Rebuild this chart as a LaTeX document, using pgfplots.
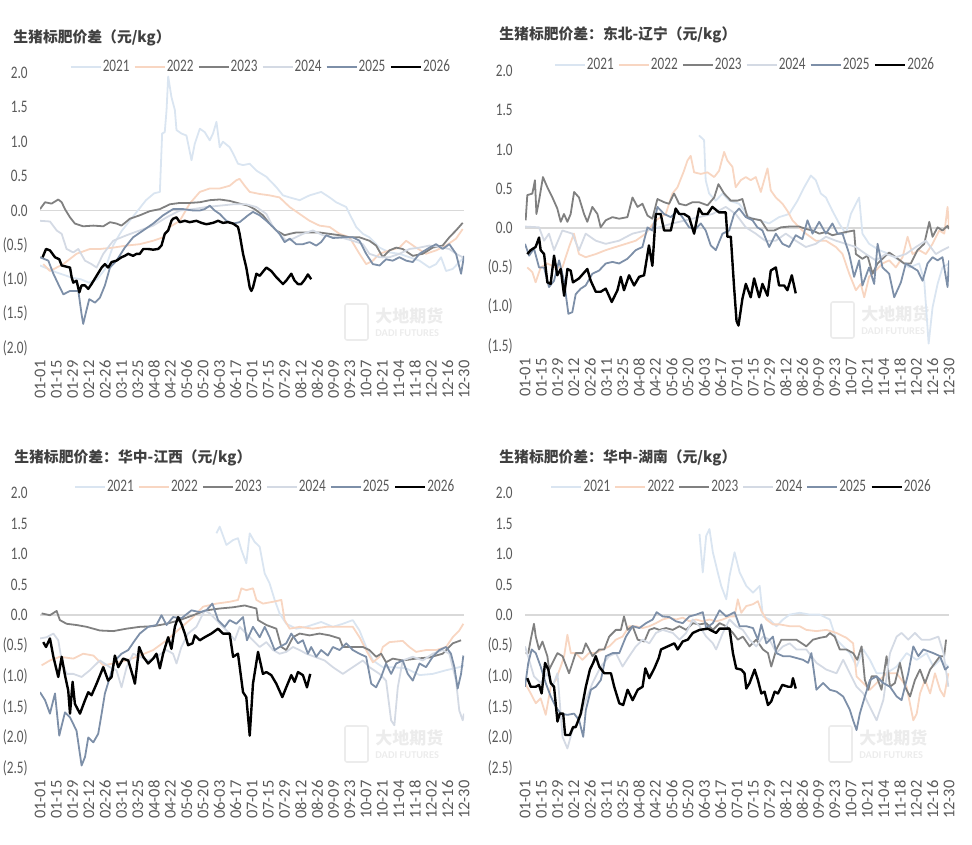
\documentclass[border=0pt]{standalone}
\usepackage{fontspec}
\setmainfont{Carlito}
\newfontfamily\cjk{Noto Sans CJK SC}
\usepackage{graphicx}
\usepackage{pgfplots}
\pgfplotsset{compat=1.18}
\definecolor{c21}{RGB}{218,229,241}
\definecolor{c22}{RGB}{248,214,194}
\definecolor{c23}{RGB}{128,128,128}
\definecolor{c24}{RGB}{212,218,228}
\definecolor{c25}{RGB}{125,143,168}
\definecolor{tk}{RGB}{89,89,89}
\definecolor{tt}{RGB}{64,64,64}
\definecolor{zl}{RGB}{217,217,217}
\definecolor{wm}{RGB}{236,236,236}
\newcommand\sx[1]{\scalebox{0.75}[1]{#1}}
\pgfplotsset{panel/.style={
  scale only axis, width=212pt, height=137.5pt, anchor=south west,
  xmin=0, xmax=26, xtick={0,...,26},
  xticklabels={01-01,01-15,01-29,02-12,02-26,03-11,03-25,04-08,04-22,05-06,05-20,06-03,06-17,07-01,07-15,07-29,08-12,08-26,09-09,09-23,10-07,10-21,11-04,11-18,12-02,12-16,12-30},
  xticklabel style={rotate=90, anchor=east, inner sep=0pt, font=\fontsize{8.2}{9}\selectfont, text=tk},
  xticklabel shift=6pt, yticklabel shift=6pt,
  yticklabel style={anchor=east, inner sep=0pt, font=\fontsize{8.8}{10}\selectfont, text=tk},
  axis line style={draw=none}, major tick length=0pt, tick style={draw=none},
  legend columns=6,
  legend style={draw=none, fill=none, font=\fontsize{8.8}{10}\selectfont, text=tk, inner sep=0pt, anchor=center, yshift=3pt,
    nodes={inner sep=0.6pt},
    /tikz/every even column/.append style={column sep=1.5pt}},
  legend image code/.code={\draw[##1] (0pt,0pt) -- (15pt,0pt);},
  every axis plot/.append style={line join=round},
}}
\pgfplotsset{
  s21/.style={c21, line width=0.9pt},
  s22/.style={c22, line width=0.9pt},
  s23/.style={c23, line width=0.9pt},
  s24/.style={c24, line width=0.9pt},
  s25/.style={c25, line width=0.9pt},
  s26/.style={black, line width=1.2pt},
}
\newcommand\wmark[2]{%
  \node[anchor=west, font=\fontsize{8.5}{9}\cjk\bfseries, text=wm, inner sep=0pt] at (#1,#2) {大地期货};
  \node[anchor=west, font=\fontsize{5.2}{6}\selectfont\bfseries, text=wm, inner sep=0pt] at ([yshift=-8.5pt]#1,#2) {DADI FUTURES};
  \draw[wm, line width=0.8pt, rounded corners=1pt] ([xshift=-15pt,yshift=-12pt]#1,#2) rectangle ([xshift=-3.5pt,yshift=6pt]#1,#2);
}
\begin{document}
\begin{tikzpicture}
\path[use as bounding box] (0,0) rectangle (486pt,422pt);
\wmark{187.5pt}{264pt}
\wmark{430.5pt}{265pt}
\wmark{187.5pt}{53pt}
\wmark{429.5pt}{53pt}
\node[anchor=west, font=\fontsize{7.4}{9}\cjk\bfseries, text=tt, inner sep=0pt] at (6.5pt,403pt) {生猪标肥价差（元/kg）};
\node[anchor=west, font=\fontsize{7.4}{9}\cjk\bfseries, text=tt, inner sep=0pt] at (249.5pt,404.5pt) {生猪标肥价差：东北-辽宁（元/kg）};
\node[anchor=west, font=\fontsize{7.4}{9}\cjk\bfseries, text=tt, inner sep=0pt] at (7pt,193pt) {生猪标肥价差：华中-江西（元/kg）};
\node[anchor=west, font=\fontsize{7.4}{9}\cjk\bfseries, text=tt, inner sep=0pt] at (249.5pt,193pt) {生猪标肥价差：华中-湖南（元/kg）};

% ---------------- Panel 1 ----------------
\begin{axis}[panel, at={(20pt,248pt)}, ymin=-2, ymax=2,
  ytick={-2,-1.5,-1,-0.5,0,0.5,1,1.5,2},
  yticklabels={\sx{(2.0)},\sx{(1.5)},\sx{(1.0)},\sx{(0.5)},\sx{0.0},\sx{0.5},\sx{1.0},\sx{1.5},\sx{2.0}},
  legend style={at={(0.52,1)}}]
\addplot[zl, line width=0.8pt, forget plot] coordinates {(0,0)(26,0)};
\addplot[s21] coordinates {(0,-0.80)(1,-0.90)(2,-0.98)(2.5,-1.00)(3,-1.05)(3.5,-1.00)(4,-0.85)(4.5,-0.50)(5,-0.30)(5.5,-0.15)(6,0.00)(6.5,0.15)(7,0.25)(7.35,0.27)(7.49,1.12)(7.65,1.14)(7.76,1.46)(7.86,1.95)(8.06,1.65)(8.27,1.46)(8.37,1.17)(8.67,1.12)(8.98,1.09)(9.29,0.73)(9.49,0.97)(9.8,1.19)(10.1,1.14)(10.41,1.02)(10.61,1.12)(10.82,1.29)(11.02,0.92)(11.22,1.00)(11.63,0.92)(11.84,0.83)(12.14,0.68)(12.45,0.66)(12.86,0.68)(13.27,0.58)(13.88,0.49)(14.49,0.34)(14.9,0.22)(15.31,0.19)(15.92,0.15)(16.53,0.22)(17.24,0.27)(17.76,0.19)(18.16,0.12)(18.78,0.05)(18.98,-0.05)(19.39,-0.24)(19.8,-0.34)(20.2,-0.39)(20.82,-0.54)(21.43,-0.61)(22.04,-0.63)(22.65,-0.68)(23.27,-0.73)(23.88,-0.83)(24.29,-0.78)(24.59,-0.68)(24.9,-0.88)(25.31,-0.85)(25.71,-0.75)(26,-0.68)};
\addlegendentry{\sx{2021}}
\addplot[s22] coordinates {(0.2,-0.78)(0.61,-0.88)(1.43,-0.78)(2.24,-0.63)(3.06,-0.56)(3.67,-0.56)(4.49,-0.54)(5.31,-0.51)(6.12,-0.49)(6.94,-0.44)(7.55,-0.39)(7.96,-0.24)(8.57,-0.15)(9.18,0.10)(9.8,0.27)(10.41,0.32)(11.02,0.32)(11.63,0.36)(12.04,0.44)(12.24,0.46)(12.55,0.36)(12.86,0.27)(13.47,0.24)(14.08,0.22)(14.69,0.19)(15.31,0.05)(15.92,-0.05)(16.53,-0.15)(17.14,-0.22)(17.76,-0.24)(18.37,-0.34)(18.98,-0.39)(19.59,-0.63)(20.0,-0.78)(20.41,-0.73)(20.82,-0.63)(21.43,-0.58)(22.04,-0.54)(22.45,-0.44)(23.06,-0.54)(23.67,-0.63)(24.29,-0.58)(24.9,-0.51)(25.51,-0.41)(25.92,-0.27)};
\addlegendentry{\sx{2022}}
\addplot[s23] coordinates {(0,0.02)(0.31,0.12)(0.71,0.10)(1.12,0.16)(1.33,0.12)(1.53,0.02)(1.84,-0.10)(2.14,-0.19)(2.65,-0.23)(3.27,-0.22)(3.88,-0.23)(4.29,-0.17)(4.69,-0.19)(5.0,-0.22)(5.51,-0.12)(6.12,-0.07)(6.73,-0.01)(7.35,0.02)(7.96,0.09)(8.57,0.11)(9.18,0.11)(9.8,0.12)(10.41,0.15)(11.02,0.16)(11.63,0.14)(12.24,0.10)(12.76,0.07)(13.16,0.02)(13.67,-0.07)(14.08,-0.19)(14.49,-0.29)(15.0,-0.36)(15.31,-0.34)(15.71,-0.32)(16.53,-0.32)(17.14,-0.32)(17.76,-0.34)(18.37,-0.36)(18.98,-0.39)(19.59,-0.39)(20.2,-0.44)(20.61,-0.51)(21.02,-0.68)(21.43,-0.58)(21.84,-0.54)(22.24,-0.56)(22.86,-0.66)(23.47,-0.63)(24.08,-0.54)(24.69,-0.51)(25.1,-0.39)(25.51,-0.29)(25.92,-0.18)};
\addlegendentry{\sx{2023}}
\addplot[s24] coordinates {(0,-0.15)(0.61,-0.16)(1.02,-0.29)(1.33,-0.34)(1.63,-0.56)(2.04,-0.61)(2.35,-0.56)(2.76,-0.73)(3.16,-0.78)(3.47,-0.83)(3.88,-0.63)(4.49,-0.44)(5.31,-0.36)(6.12,-0.29)(6.94,-0.22)(7.76,-0.10)(8.57,0.00)(9.39,0.02)(10.2,0.05)(11.02,0.07)(11.84,0.09)(12.65,0.09)(13.27,0.05)(13.88,-0.05)(14.29,-0.24)(14.69,-0.34)(15.1,-0.44)(15.51,-0.41)(16.12,-0.34)(16.73,-0.29)(17.35,-0.36)(17.96,-0.39)(18.57,-0.40)(19.18,-0.44)(19.8,-0.49)(20.2,-0.63)(20.82,-0.68)(21.43,-0.68)(22.04,-0.63)(22.65,-0.56)(23.27,-0.54)(23.88,-0.51)(24.49,-0.53)(25.1,-0.56)(25.51,-0.63)(25.92,-0.68)};
\addlegendentry{\sx{2024}}
\addplot[s25] coordinates {(0,-0.68)(0.31,-0.71)(0.51,-0.73)(0.82,-0.92)(1.12,-1.07)(1.43,-1.22)(1.84,-1.17)(2.35,-1.17)(2.55,-1.51)(2.65,-1.65)(2.82,-1.48)(3.02,-1.29)(3.37,-1.34)(3.67,-1.27)(3.98,-1.09)(4.29,-0.83)(4.69,-0.73)(5.2,-0.54)(5.71,-0.39)(6.33,-0.29)(6.94,-0.19)(7.55,-0.07)(8.16,0.02)(8.78,0.02)(9.39,0.00)(9.8,0.00)(10.1,0.02)(10.41,0.07)(10.71,0.00)(11.02,-0.05)(11.43,-0.15)(11.84,-0.19)(12.24,-0.17)(12.76,-0.07)(13.06,-0.02)(13.47,-0.07)(13.88,-0.15)(14.29,-0.24)(14.69,-0.34)(15.0,-0.46)(15.31,-0.41)(15.71,-0.49)(16.12,-0.49)(16.53,-0.46)(16.94,-0.51)(17.24,-0.46)(17.55,-0.36)(17.96,-0.40)(18.57,-0.39)(19.18,-0.39)(19.59,-0.44)(20.0,-0.63)(20.41,-0.78)(20.82,-0.80)(21.22,-0.71)(21.63,-0.73)(22.04,-0.68)(22.45,-0.73)(22.86,-0.75)(23.27,-0.63)(23.88,-0.54)(24.29,-0.49)(24.69,-0.56)(25.1,-0.49)(25.51,-0.63)(25.82,-0.92)(26,-0.66)};
\addlegendentry{\sx{2025}}
\addplot[s26] coordinates {(0.16,-0.68)(0.37,-0.56)(0.61,-0.58)(0.92,-0.68)(1.18,-0.71)(1.33,-0.80)(1.84,-0.83)(1.94,-0.97)(2.04,-1.05)(2.24,-1.02)(2.41,-1.19)(2.55,-1.09)(2.76,-1.09)(2.96,-1.14)(3.16,-1.07)(3.47,-0.95)(3.78,-0.83)(3.98,-0.78)(4.18,-0.83)(4.39,-0.75)(4.69,-0.73)(5.0,-0.68)(5.2,-0.66)(5.41,-0.63)(5.71,-0.66)(5.92,-0.63)(6.12,-0.63)(6.33,-0.56)(6.63,-0.56)(6.94,-0.57)(7.24,-0.56)(7.45,-0.51)(7.65,-0.34)(7.86,-0.29)(8.06,-0.15)(8.16,-0.12)(8.37,-0.10)(8.57,-0.17)(8.88,-0.15)(9.18,-0.17)(9.59,-0.15)(9.9,-0.18)(10.2,-0.20)(10.61,-0.18)(10.92,-0.15)(11.22,-0.18)(11.53,-0.17)(11.84,-0.19)(12.14,-0.24)(12.24,-0.34)(12.45,-0.63)(12.65,-0.83)(12.86,-1.12)(12.96,-1.17)(13.06,-1.12)(13.27,-0.92)(13.47,-0.95)(13.88,-0.83)(14.18,-0.88)(14.49,-0.97)(14.9,-1.07)(15.1,-1.02)(15.41,-0.92)(15.61,-1.02)(15.82,-1.07)(16.02,-1.07)(16.22,-1.01)(16.43,-0.93)(16.63,-1.00)};
\addlegendentry{\sx{2026}}
\end{axis}

% ---------------- Panel 2 ----------------
\begin{axis}[panel, at={(262.5pt,249pt)}, ymin=-1.5, ymax=2,
  ytick={-1.5,-1,-0.5,0,0.5,1,1.5,2},
  yticklabels={\sx{(1.5)},\sx{(1.0)},\sx{(0.5)},\sx{0.0},\sx{0.5},\sx{1.0},\sx{1.5},\sx{2.0}},
  legend style={at={(0.518,1)}}]
\addplot[zl, line width=0.8pt, forget plot] coordinates {(0,0)(26,0)};
\addplot[s21] coordinates {(10.67,1.18)(10.98,1.12)(11.08,0.61)(11.29,0.44)(11.7,0.35)(12.11,0.44)(12.52,0.35)(13.13,0.31)(13.74,0.14)(14.36,0.10)(14.97,0.06)(15.58,0.14)(16.2,0.18)(16.71,0.35)(17.12,0.52)(17.53,0.67)(17.83,0.61)(18.14,0.44)(18.45,0.39)(18.85,0.22)(19.26,0.06)(19.67,-0.07)(19.98,0.18)(20.29,0.31)(20.49,0.39)(20.69,-0.07)(21.1,-0.20)(21.72,-0.28)(22.33,-0.33)(22.94,-0.41)(23.56,-0.50)(24.17,-0.45)(24.48,-0.67)(24.75,-1.47)(24.99,-1.01)(25.3,-0.71)(25.6,-0.50)(26,-0.45)};
\addlegendentry{\sx{2021}}
\addplot[s22] coordinates {(0.14,-0.50)(0.45,-0.56)(0.65,-0.69)(0.96,-0.50)(1.37,-0.45)(1.88,-0.50)(2.29,-0.50)(2.7,-0.24)(3.0,-0.07)(3.31,-0.33)(3.72,-0.37)(4.34,-0.33)(4.95,-0.28)(5.56,-0.24)(6.18,-0.20)(6.79,-0.16)(7.4,-0.07)(8.02,0.10)(8.63,0.18)(9.04,0.44)(9.35,0.52)(9.75,0.73)(9.96,0.86)(10.16,0.92)(10.37,0.71)(10.78,0.69)(11.19,0.71)(11.6,0.65)(11.9,0.73)(12.21,0.97)(12.41,0.86)(12.72,0.78)(12.92,0.52)(13.23,0.61)(13.54,0.65)(13.84,0.61)(14.15,0.65)(14.46,0.46)(14.87,0.76)(15.07,0.48)(15.38,0.39)(15.79,0.31)(16.09,0.22)(16.4,0.10)(16.81,0.01)(17.22,-0.07)(17.83,-0.16)(18.45,-0.16)(19.06,-0.24)(19.47,-0.33)(19.88,-0.58)(20.29,-0.79)(20.59,-0.71)(20.8,-0.88)(21.1,-0.62)(21.51,-0.54)(21.92,-0.45)(22.33,-0.41)(22.74,-0.50)(23.15,-0.37)(23.46,-0.11)(23.76,-0.33)(24.17,-0.28)(24.58,-0.33)(24.99,-0.20)(25.4,-0.03)(25.71,-0.07)(25.91,0.27)(26,0.01)};
\addlegendentry{\sx{2022}}
\addplot[s23] coordinates {(0.04,0.10)(0.14,0.42)(0.45,0.44)(0.61,0.61)(0.7,0.18)(0.86,0.35)(1.1,0.65)(1.37,0.52)(1.68,0.39)(1.98,0.25)(2.19,0.08)(2.39,0.18)(2.6,0.08)(2.8,0.18)(3.01,0.46)(3.31,0.39)(3.62,0.18)(3.82,0.08)(4.13,0.27)(4.44,0.18)(4.64,0.01)(4.95,0.10)(5.36,0.14)(5.77,0.12)(6.28,0.14)(6.59,0.39)(6.9,0.27)(7.2,0.31)(7.51,0.16)(7.81,0.12)(8.12,0.37)(8.53,0.33)(8.83,0.31)(9.14,0.44)(9.45,0.31)(9.86,0.29)(10.27,0.33)(10.67,0.33)(11.19,0.29)(11.6,0.39)(11.86,0.56)(12.21,0.44)(12.62,0.35)(13.03,0.35)(13.33,0.37)(13.64,0.14)(13.95,0.12)(14.46,0.10)(14.87,-0.03)(15.28,-0.03)(15.69,0.01)(16.2,0.02)(16.81,0.02)(17.22,-0.01)(17.63,-0.03)(18.04,-0.07)(18.45,-0.05)(18.85,-0.09)(19.26,-0.07)(19.67,-0.05)(20.18,-0.03)(20.29,-0.33)(20.69,-0.39)(21.0,-0.35)(21.31,-0.58)(21.62,-0.45)(21.92,-0.39)(22.33,-0.31)(22.74,-0.37)(23.25,-0.45)(23.66,-0.45)(24.07,-0.28)(24.48,-0.20)(24.79,0.08)(24.99,-0.11)(25.3,0.01)(25.6,-0.03)(25.91,0.03)(26,-0.01)};
\addlegendentry{\sx{2023}}
\addplot[s24] coordinates {(0,0.02)(0.86,0.01)(1.17,-0.16)(1.47,-0.07)(1.78,-0.28)(2.29,-0.03)(2.9,-0.07)(3.31,-0.28)(3.72,-0.07)(4.34,-0.16)(4.95,-0.20)(5.77,-0.16)(6.59,-0.07)(7.4,-0.03)(8.22,0.01)(9.04,0.06)(9.86,0.10)(10.67,0.14)(11.49,0.18)(12.31,0.27)(12.92,0.18)(13.54,0.01)(14.15,-0.07)(14.72,-0.16)(15.38,-0.16)(15.99,-0.07)(16.6,-0.16)(17.22,-0.24)(17.83,-0.20)(18.45,-0.11)(19.06,-0.16)(19.67,-0.20)(20.29,-0.24)(20.9,-0.33)(21.51,-0.41)(22.13,-0.33)(22.74,-0.37)(23.35,-0.33)(23.97,-0.24)(24.58,-0.16)(25.19,-0.33)(25.6,-0.28)(26,-0.24)};
\addlegendentry{\sx{2024}}
\addplot[s25] coordinates {(0,-0.20)(0.25,-0.35)(0.55,-0.26)(0.86,-0.50)(1.17,-0.50)(1.47,-0.75)(1.78,-0.67)(2.09,-0.41)(2.39,-0.67)(2.66,-1.09)(2.9,-1.07)(3.11,-0.84)(3.42,-0.77)(3.72,-0.73)(4.13,-0.58)(4.54,-0.54)(4.95,-0.45)(5.36,-0.43)(5.77,-0.45)(6.28,-0.39)(6.79,-0.28)(7.2,-0.24)(7.51,0.01)(7.81,-0.03)(8.12,0.27)(8.53,0.18)(8.94,0.14)(9.35,0.22)(9.65,0.14)(10.06,0.01)(10.47,-0.01)(10.78,0.06)(11.08,-0.03)(11.39,-0.22)(11.7,-0.28)(12.11,-0.07)(12.52,-0.03)(12.82,0.18)(13.13,0.25)(13.54,0.14)(13.95,0.10)(14.25,0.01)(14.56,-0.03)(14.97,-0.24)(15.38,-0.07)(15.79,-0.20)(16.2,-0.24)(16.6,-0.09)(17.01,-0.14)(17.32,0.10)(17.63,-0.07)(18.04,0.08)(18.45,-0.07)(18.85,0.06)(19.16,-0.07)(19.47,-0.07)(19.88,-0.33)(20.18,-0.62)(20.49,-0.41)(20.69,-0.73)(21.1,-0.50)(21.41,-0.71)(21.62,-0.20)(21.92,-0.50)(22.33,-0.58)(22.64,-0.88)(23.05,-0.69)(23.35,-0.45)(23.76,-0.50)(24.07,-0.54)(24.38,-0.67)(24.68,-0.45)(24.99,-0.37)(25.3,-0.41)(25.6,-0.37)(25.91,-0.75)(26,-0.41)};
\addlegendentry{\sx{2025}}
\addplot[s26] coordinates {(0.14,-0.33)(0.35,-0.28)(0.65,-0.24)(0.86,-0.12)(0.96,-0.28)(1.17,-0.33)(1.37,-0.69)(1.57,-0.71)(1.78,-0.35)(1.98,-0.60)(2.19,-0.52)(2.4,-0.86)(2.6,-0.52)(2.8,-0.54)(2.94,-0.69)(3.31,-0.64)(3.82,-0.52)(4.03,-0.67)(4.34,-0.81)(4.64,-0.81)(4.95,-0.77)(5.32,-0.94)(5.67,-0.79)(5.87,-0.62)(6.07,-0.79)(6.38,-0.60)(6.69,-0.73)(7.0,-0.62)(7.3,-0.60)(7.6,-0.22)(7.81,-0.48)(8.02,0.18)(8.32,0.18)(8.53,-0.03)(8.94,-0.03)(9.24,0.25)(9.45,0.18)(9.75,0.18)(10.06,0.14)(10.37,-0.07)(10.67,0.25)(10.88,0.18)(11.19,0.18)(11.49,0.27)(11.9,0.20)(12.31,0.20)(12.41,-0.11)(12.62,-0.11)(12.82,-0.75)(12.97,-1.18)(13.09,-1.24)(13.33,-0.90)(13.54,-0.71)(13.84,-0.88)(14.05,-0.64)(14.36,-0.88)(14.56,-0.71)(14.87,-0.86)(15.07,-0.54)(15.38,-0.50)(15.58,-0.73)(15.89,-0.73)(16.09,-0.79)(16.36,-0.60)(16.6,-0.83)};
\addlegendentry{\sx{2026}}
\end{axis}

% ---------------- Panel 3 ----------------
\begin{axis}[panel, at={(20pt,38pt)}, ymin=-2.5, ymax=2,
  ytick={-2.5,-2,-1.5,-1,-0.5,0,0.5,1,1.5,2},
  yticklabels={\sx{(2.5)},\sx{(2.0)},\sx{(1.5)},\sx{(1.0)},\sx{(0.5)},\sx{0.0},\sx{0.5},\sx{1.0},\sx{1.5},\sx{2.0}},
  legend style={at={(0.53,1)}}]
\addplot[zl, line width=0.8pt, forget plot] coordinates {(0,0)(26,0)};
\addplot[s21] coordinates {(10.82,1.34)(11.02,1.45)(11.43,1.15)(11.84,1.23)(12.14,1.26)(12.35,1.07)(12.65,0.85)(12.86,1.34)(13.16,1.20)(13.47,1.12)(13.78,0.68)(14.08,0.52)(14.39,0.25)(14.69,0.03)(15.1,-0.14)(15.71,-0.22)(16.33,-0.19)(17.24,-0.11)(17.96,-0.19)(18.57,-0.14)(19.18,-0.08)(19.59,-0.25)(20.0,-0.52)(20.41,-0.74)(21.02,-0.85)(21.63,-0.85)(22.45,-0.87)(23.27,-0.98)(24.08,-0.96)(24.9,-0.90)(25.71,-0.85)(26,-0.82)};
\addlegendentry{\sx{2021}}
\addplot[s22] coordinates {(0.1,-0.82)(0.61,-0.74)(1.22,-0.68)(2.04,-0.71)(2.65,-0.63)(3.27,-0.66)(3.88,-0.82)(4.49,-0.79)(5.31,-0.74)(6.12,-0.66)(6.94,-0.57)(7.76,-0.41)(8.57,-0.22)(9.39,-0.03)(10.0,0.14)(10.82,0.19)(11.63,0.22)(12.14,0.25)(12.35,0.44)(12.65,0.41)(13.06,0.44)(13.27,0.25)(13.67,0.19)(14.29,0.22)(14.8,0.25)(15.0,-0.08)(15.31,-0.22)(15.92,-0.19)(16.73,-0.22)(17.55,-0.19)(18.37,-0.19)(19.18,-0.19)(19.59,-0.36)(20.0,-0.57)(20.41,-0.77)(20.82,-0.68)(21.02,-0.52)(21.43,-0.44)(22.24,-0.42)(22.65,-0.52)(23.06,-0.60)(23.67,-0.57)(24.29,-0.57)(24.9,-0.52)(25.31,-0.36)(25.71,-0.25)(25.96,-0.14)};
\addlegendentry{\sx{2022}}
\addplot[s23] coordinates {(0.1,0.03)(0.61,0.00)(1.02,0.07)(1.22,-0.08)(1.63,-0.14)(2.24,-0.16)(2.86,-0.19)(3.67,-0.25)(4.49,-0.26)(5.31,-0.22)(6.12,-0.19)(6.94,-0.18)(7.76,-0.14)(8.57,-0.08)(9.39,0.00)(10.2,0.08)(11.02,0.11)(11.84,0.13)(12.55,0.16)(13.27,0.11)(13.37,-0.08)(13.88,-0.16)(14.49,-0.22)(14.8,-0.52)(15.1,-0.57)(15.51,-0.36)(15.92,-0.30)(16.53,-0.33)(17.14,-0.30)(17.76,-0.33)(18.37,-0.38)(18.57,-0.52)(19.18,-0.52)(19.8,-0.52)(20.2,-0.57)(20.61,-0.68)(20.92,-0.63)(21.22,-0.77)(21.63,-0.71)(22.24,-0.74)(23.06,-0.71)(23.88,-0.69)(24.69,-0.63)(25.31,-0.46)(25.82,-0.41)};
\addlegendentry{\sx{2023}}
\addplot[s24] coordinates {(0,-0.38)(0.41,-0.36)(0.82,-0.30)(1.12,-0.41)(1.33,-0.74)(1.63,-0.96)(2.04,-0.96)(2.55,-1.01)(3.06,-0.90)(3.67,-0.74)(4.29,-0.85)(4.69,-0.90)(5.0,-1.18)(5.31,-0.85)(5.71,-0.63)(6.12,-0.68)(6.63,-0.74)(7.14,-0.68)(7.76,-0.57)(8.16,-0.63)(8.37,-0.79)(8.67,-0.52)(9.08,-0.30)(9.59,-0.19)(10.1,0.08)(10.41,0.03)(10.82,-0.08)(11.22,-0.19)(11.63,-0.30)(11.94,-0.41)(12.24,-0.19)(12.65,-0.30)(13.06,-0.41)(13.47,-0.52)(13.88,-0.44)(14.29,-0.57)(14.69,-0.63)(15.1,-0.60)(15.51,-0.52)(15.92,-0.57)(16.33,-0.63)(16.84,-0.68)(17.45,-0.74)(17.96,-0.85)(18.57,-0.96)(19.18,-0.85)(19.8,-0.74)(20.2,-0.85)(20.82,-0.96)(21.22,-1.07)(21.53,-1.72)(21.73,-1.80)(21.94,-1.18)(22.24,-0.74)(22.86,-0.68)(23.47,-0.74)(24.08,-0.63)(24.69,-0.57)(25.1,-0.63)(25.51,-1.07)(25.71,-1.56)(25.92,-1.72)(26,-1.61)};
\addlegendentry{\sx{2024}}
\addplot[s25] coordinates {(0,-1.26)(0.31,-1.39)(0.61,-1.61)(0.92,-1.28)(1.18,-1.97)(1.53,-1.59)(1.84,-1.67)(2.24,-1.89)(2.55,-2.46)(2.76,-2.32)(2.96,-2.00)(3.27,-2.08)(3.57,-1.94)(3.78,-1.61)(3.98,-1.28)(4.29,-1.01)(4.59,-0.74)(5.0,-0.63)(5.41,-0.57)(5.82,-0.41)(6.12,-0.30)(6.63,-0.19)(7.14,-0.16)(7.45,0.00)(7.76,-0.16)(8.16,-0.03)(8.67,-0.05)(9.29,0.08)(9.8,0.05)(10.2,0.08)(10.57,0.19)(10.92,-0.08)(11.33,-0.19)(11.63,-0.08)(12.04,-0.14)(12.45,-0.03)(12.69,-0.41)(13.06,-0.19)(13.47,-0.36)(13.78,-0.19)(14.08,-0.36)(14.39,-0.57)(14.69,-0.52)(15.1,-0.46)(15.41,-0.30)(15.82,-0.46)(16.12,-0.41)(16.43,-0.63)(16.63,-0.52)(16.94,-0.68)(17.24,-0.57)(17.65,-0.66)(17.96,-0.52)(18.37,-0.57)(18.78,-0.46)(19.18,-0.57)(19.59,-0.63)(20.0,-0.68)(20.31,-1.12)(20.61,-1.18)(20.92,-1.01)(21.22,-0.79)(21.53,-0.96)(21.84,-0.79)(22.24,-0.74)(22.55,-0.96)(22.86,-1.07)(23.27,-0.79)(23.67,-0.85)(24.08,-0.68)(24.49,-0.57)(24.9,-0.52)(25.2,-0.63)(25.41,-0.85)(25.61,-1.20)(25.82,-0.96)(25.96,-0.66)};
\addlegendentry{\sx{2025}}
\addplot[s26] coordinates {(0.2,-0.44)(0.37,-0.52)(0.61,-0.38)(0.82,-0.68)(1.12,-1.01)(1.33,-0.68)(1.53,-0.98)(1.73,-1.23)(1.84,-1.61)(2.0,-1.09)(2.14,-1.45)(2.45,-1.61)(2.76,-1.39)(2.96,-1.26)(3.16,-1.31)(3.47,-1.12)(3.88,-0.85)(4.18,-1.07)(4.39,-1.01)(4.59,-0.66)(4.8,-0.85)(5.1,-0.71)(5.41,-0.74)(5.71,-1.01)(5.82,-1.12)(6.08,-0.52)(6.33,-0.68)(6.63,-0.79)(6.94,-0.71)(7.14,-0.63)(7.35,-0.87)(7.55,-0.63)(7.86,-0.36)(8.06,-0.55)(8.27,-0.19)(8.47,-0.03)(8.67,-0.14)(8.88,-0.30)(9.08,-0.49)(9.35,-0.46)(9.49,-0.33)(9.8,-0.41)(10.1,-0.36)(10.51,-0.30)(10.92,-0.22)(11.22,-0.30)(11.63,-0.30)(11.84,-0.68)(12.14,-0.63)(12.45,-1.26)(12.65,-1.34)(12.86,-1.97)(13.06,-1.12)(13.37,-0.60)(13.67,-0.96)(13.88,-0.93)(14.18,-0.98)(14.49,-1.12)(14.86,-1.34)(15.1,-1.18)(15.41,-0.98)(15.61,-1.09)(15.82,-0.93)(16.12,-0.98)(16.37,-1.18)(16.57,-0.96)};
\addlegendentry{\sx{2026}}
\end{axis}

% ---------------- Panel 4 ----------------
\begin{axis}[panel, at={(262.5pt,38pt)}, ymin=-2.5, ymax=2,
  ytick={-2.5,-2,-1.5,-1,-0.5,0,0.5,1,1.5,2},
  yticklabels={\sx{(2.5)},\sx{(2.0)},\sx{(1.5)},\sx{(1.0)},\sx{(0.5)},\sx{0.0},\sx{0.5},\sx{1.0},\sx{1.5},\sx{2.0}},
  legend style={at={(0.51,1)}}]
\addplot[zl, line width=0.8pt, forget plot] coordinates {(0,0)(26,0)};
\addplot[s21] coordinates {(10.7,1.33)(10.9,0.70)(11.11,1.30)(11.31,1.41)(11.52,1.03)(11.82,0.70)(12.03,0.48)(12.34,0.26)(12.54,0.64)(12.85,1.03)(13.16,0.70)(13.57,0.48)(13.98,0.37)(14.39,0.48)(14.59,-0.02)(15.0,-0.07)(15.41,-0.18)(15.82,-0.07)(16.23,0.01)(16.84,0.04)(17.46,0.01)(18.07,0.01)(18.69,-0.07)(19.1,-0.40)(19.51,-0.51)(19.92,-0.62)(20.33,-0.84)(20.74,-0.56)(21.15,-0.73)(21.56,-0.95)(22.17,-0.95)(22.79,-0.84)(23.4,-0.62)(24.02,-0.73)(24.63,-0.62)(25.04,-0.84)(25.45,-0.73)(25.96,-0.84)};
\addlegendentry{\sx{2021}}
\addplot[s22] coordinates {(0,-1.11)(0.35,-1.28)(0.66,-1.44)(0.96,-1.36)(1.27,-1.63)(1.58,-1.17)(1.89,-1.06)(2.19,-0.84)(2.4,-0.67)(2.6,-0.32)(2.81,-0.62)(3.11,-0.62)(3.52,-0.73)(3.93,-0.62)(4.34,-0.62)(4.75,-0.56)(5.16,-0.51)(5.57,-0.40)(5.98,-0.35)(6.39,-0.18)(6.8,-0.18)(7.21,-0.21)(7.62,-0.18)(8.03,-0.13)(8.44,-0.07)(8.85,-0.04)(9.26,-0.07)(9.67,-0.04)(10.08,-0.10)(10.49,-0.07)(10.9,-0.10)(11.31,-0.07)(11.72,-0.10)(12.13,-0.07)(12.54,-0.02)(12.85,-0.02)(13.05,0.26)(13.26,0.04)(13.57,0.15)(13.98,0.18)(14.28,0.23)(14.49,0.07)(14.8,-0.07)(15.2,-0.15)(15.61,-0.15)(16.23,-0.18)(16.84,-0.18)(17.25,-0.24)(17.87,-0.26)(18.48,-0.24)(19.1,-0.29)(19.71,-0.37)(20.12,-0.46)(20.33,-1.00)(20.74,-1.11)(21.15,-1.22)(21.56,-1.11)(22.17,-0.95)(22.79,-0.95)(23.4,-1.17)(23.81,-1.72)(24.02,-1.61)(24.22,-1.28)(24.53,-1.06)(24.84,-1.28)(25.14,-0.95)(25.45,-1.22)(25.7,-1.33)(25.96,-0.95)};
\addlegendentry{\sx{2022}}
\addplot[s23] coordinates {(0.04,-0.62)(0.2,-0.62)(0.35,-0.40)(0.55,-0.14)(0.66,-0.35)(0.86,-0.56)(1.07,-0.43)(1.37,-0.67)(1.48,-0.89)(1.78,-0.73)(1.99,-0.62)(2.3,-0.67)(2.7,-0.95)(3.11,-0.62)(3.52,-0.62)(3.73,-0.46)(4.14,-0.67)(4.55,-0.56)(4.86,-0.56)(5.16,-0.35)(5.57,-0.24)(5.88,-0.24)(6.07,-0.02)(6.29,-0.24)(6.6,-0.18)(6.91,-0.40)(7.32,-0.43)(7.62,-0.24)(7.93,-0.21)(8.24,-0.24)(8.65,-0.21)(9.06,-0.24)(9.47,-0.18)(9.88,-0.24)(10.29,-0.13)(10.7,-0.15)(11.11,-0.13)(11.52,-0.24)(11.93,-0.13)(12.34,-0.18)(12.75,-0.29)(13.05,-0.40)(13.36,-0.35)(13.77,-0.51)(14.18,-0.40)(14.59,-0.56)(14.9,-0.62)(15.1,-0.84)(15.41,-0.56)(15.72,-0.40)(16.13,-0.40)(16.64,-0.40)(17.25,-0.51)(17.66,-0.40)(18.07,-0.37)(18.48,-0.35)(18.69,-0.29)(18.99,-0.35)(19.3,-0.56)(19.71,-0.56)(20.12,-0.62)(20.37,-0.73)(20.64,-0.51)(20.84,-1.06)(21.05,-1.22)(21.25,-1.00)(21.56,-1.00)(21.86,-1.22)(22.17,-0.67)(22.38,-1.17)(22.68,-1.11)(22.99,-0.78)(23.3,-1.17)(23.61,-1.33)(23.91,-1.06)(24.22,-0.89)(24.53,-1.11)(24.84,-0.89)(25.14,-0.78)(25.45,-0.67)(25.7,-0.67)(25.82,-0.40)};
\addlegendentry{\sx{2023}}
\addplot[s24] coordinates {(0,-0.51)(0.25,-0.73)(0.55,-1.00)(0.96,-1.11)(1.37,-0.95)(1.68,-1.17)(1.99,-0.95)(2.3,-1.99)(2.6,-2.18)(2.91,-1.88)(3.32,-1.72)(3.73,-1.39)(4.14,-1.11)(4.65,-0.84)(5.16,-0.67)(5.57,-0.62)(5.98,-0.84)(6.39,-0.67)(6.8,-0.51)(7.21,-0.40)(7.62,-0.46)(8.03,-0.29)(8.44,-0.24)(9.06,-0.29)(9.47,-0.40)(9.88,-0.29)(10.29,-0.07)(10.7,-0.18)(11.11,-0.35)(11.52,-0.46)(11.72,-0.56)(12.13,-0.29)(12.54,-0.07)(12.95,-0.18)(13.36,-0.24)(13.77,-0.40)(14.18,-0.51)(14.59,-0.35)(15.0,-0.40)(15.41,-0.62)(15.82,-0.51)(16.23,-0.46)(16.64,-0.56)(17.25,-0.56)(17.87,-0.78)(18.48,-0.89)(19.1,-0.95)(19.51,-0.73)(19.92,-0.95)(20.33,-1.17)(20.74,-1.28)(21.15,-1.50)(21.56,-1.72)(21.97,-1.39)(22.38,-0.62)(22.79,-0.35)(23.09,-0.29)(23.5,-0.40)(23.91,-0.29)(24.32,-0.40)(24.84,-0.40)(25.35,-0.35)(25.66,-0.62)(25.96,-1.17)};
\addlegendentry{\sx{2024}}
\addplot[s25] coordinates {(0,-1.17)(0.2,-0.78)(0.41,-0.56)(0.66,-0.62)(0.96,-0.84)(1.27,-1.11)(1.58,-1.33)(1.89,-1.50)(2.19,-1.61)(2.6,-1.63)(3.01,-1.61)(3.32,-1.72)(3.57,-1.99)(3.73,-1.55)(4.04,-1.22)(4.34,-1.17)(4.65,-1.06)(4.96,-0.67)(5.37,-0.62)(5.78,-0.62)(6.19,-0.35)(6.6,-0.18)(7.01,-0.21)(7.42,-0.13)(7.83,-0.07)(8.07,0.05)(8.44,-0.02)(8.85,-0.03)(9.26,-0.10)(9.67,-0.13)(10.08,-0.02)(10.49,0.01)(10.9,0.05)(11.11,-0.21)(11.52,-0.13)(11.93,0.08)(12.34,-0.02)(12.85,0.05)(13.16,-0.18)(13.57,-0.18)(13.98,-0.21)(14.28,-0.40)(14.49,-0.15)(14.8,-0.46)(15.2,-0.35)(15.41,-0.62)(15.82,-0.67)(16.23,-0.67)(16.64,-0.70)(17.05,-0.73)(17.36,-0.78)(17.56,-0.62)(17.87,-1.22)(18.28,-1.11)(18.69,-1.22)(19.1,-1.25)(19.51,-1.33)(19.92,-1.55)(20.12,-1.72)(20.33,-1.88)(20.53,-1.61)(20.84,-1.33)(21.15,-1.06)(21.56,-1.00)(21.97,-1.11)(22.38,-1.17)(22.79,-1.33)(23.09,-1.39)(23.5,-0.95)(23.81,-0.51)(24.12,-0.67)(24.43,-0.56)(25.04,-0.62)(25.45,-0.67)(25.76,-0.89)(25.96,-0.84)};
\addlegendentry{\sx{2025}}
\addplot[s26] coordinates {(0.14,-1.03)(0.35,-1.17)(0.66,-1.17)(0.86,-1.14)(1.02,-1.28)(1.23,-0.78)(1.43,-0.89)(1.58,-1.11)(1.78,-1.17)(1.99,-1.74)(2.13,-1.61)(2.34,-1.61)(2.46,-1.96)(2.75,-1.96)(2.95,-1.83)(3.11,-1.83)(3.42,-1.61)(3.73,-1.17)(3.98,-0.89)(4.18,-0.78)(4.34,-0.67)(4.55,-0.84)(4.86,-0.95)(5.27,-0.95)(5.47,-1.17)(5.78,-1.44)(6.02,-1.47)(6.29,-1.22)(6.6,-1.39)(6.91,-1.22)(7.21,-1.17)(7.38,-0.87)(7.62,-1.03)(7.93,-0.87)(8.2,-0.70)(8.34,-0.56)(8.75,-0.51)(9.16,-0.46)(9.36,-0.56)(9.67,-0.43)(9.98,-0.40)(10.29,-0.29)(10.7,-0.24)(11.21,-0.22)(11.72,-0.29)(11.93,-0.22)(12.54,-0.22)(12.75,-0.62)(12.95,-0.87)(13.26,-0.89)(13.46,-0.95)(13.57,-1.20)(13.77,-1.11)(14.08,-0.89)(14.28,-1.06)(14.49,-1.28)(14.69,-1.25)(14.9,-1.47)(15.1,-1.41)(15.31,-1.25)(15.51,-1.28)(15.78,-1.14)(16.13,-1.17)(16.33,-1.17)(16.43,-1.03)(16.6,-1.20)};
\addlegendentry{\sx{2026}}
\end{axis}
\end{tikzpicture}
\end{document}
